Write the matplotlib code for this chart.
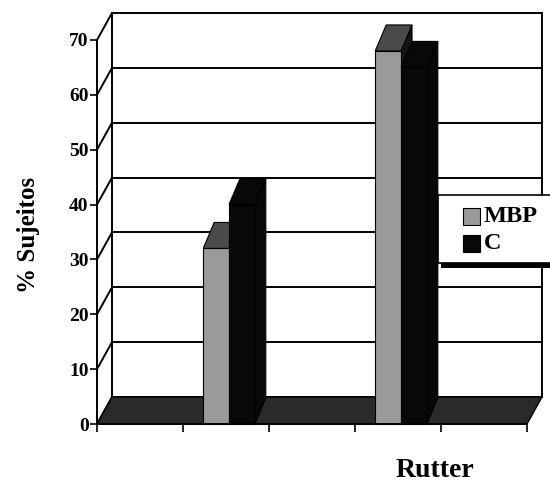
import matplotlib
matplotlib.use("Agg")
import matplotlib.pyplot as plt
from matplotlib.patches import Polygon, Rectangle

# dados (% de sujeitos por categoria Rutter)
categorias = [0, 1, 2, 3, 4]
mbp = [0, 32, 0, 68, 0]
ctrl = [0, 40, 0, 65, 0]
series = ["MBP", "C"]
yticks = [0, 10, 20, 30, 40, 50, 60, 70]

plt.rcParams['font.family'] = ['Liberation Serif', 'DejaVu Serif']
plt.rcParams['font.weight'] = 'bold'

W, H = 550, 486
fig = plt.figure(figsize=(W/100, H/100), dpi=100)

# eixo: x de 97 a 527 px, y=0 em 424 px, 10 unidades = 54.86 px
px_y = 54.86/10
ax = fig.add_axes([97/W, (H-424)/H, 430/W, 412/H])
ax.set_xlim(-0.5, 4.5)
ax.set_ylim(0, 412/px_y)

# profundidade das paredes e das barras (em unidades dos dados)
wdx, wdy = 15/86, 27/px_y
bdx, bdy = 11/86, 26/px_y

cor_mbp = '#9a9a9a'
cor_mbp_topo = '#4a4a4a'
cor_mbp_lado = '#151515'
cor_c = '#080808'
cor_chao = '#2a2a2a'

x0, x1 = -0.5, 4.5
ytop = yticks[-1]
lw = 1.4

# parede do fundo
ax.add_patch(Rectangle((x0+wdx, wdy), x1-x0, ytop, facecolor='white',
                       edgecolor='black', lw=lw, zorder=0, clip_on=False))
for t in yticks[1:-1]:
    ax.plot([x0+wdx, x1+wdx], [t+wdy, t+wdy], color='black', lw=lw,
            zorder=1, clip_on=False)
# parede lateral esquerda (diagonais)
for t in yticks:
    ax.plot([x0, x0+wdx], [t, t+wdy], color='black', lw=lw, zorder=1,
            clip_on=False)

# chao
ax.add_patch(Polygon([(x0, 0), (x1, 0), (x1+wdx, wdy), (x0+wdx, wdy)],
                     closed=True, facecolor=cor_chao, edgecolor='black',
                     lw=1, zorder=2, clip_on=False))

# barras 3D
larg = 0.3
desl = [-0.265, 0.035]
cores = [(cor_mbp, cor_mbp_topo, cor_mbp_lado), (cor_c, cor_c, cor_c)]
z = 3
for cat in categorias:
    for s, vals in enumerate([mbp, ctrl]):
        h = vals[cat]
        if h <= 0:
            continue
        xl = cat + desl[s]
        xr = xl + larg
        frente, topo, lado = cores[s]
        ax.add_patch(Polygon([(xr, 0), (xr+bdx, bdy), (xr+bdx, h+bdy), (xr, h)],
                             closed=True, facecolor=lado, edgecolor='black',
                             lw=0.8, zorder=z, clip_on=False))
        ax.add_patch(Polygon([(xl, h), (xr, h), (xr+bdx, h+bdy), (xl+bdx, h+bdy)],
                             closed=True, facecolor=topo, edgecolor='black',
                             lw=0.8, zorder=z, clip_on=False))
        ax.bar(xl, h, larg, align='edge', color=frente, edgecolor='black',
               lw=0.8, zorder=z+0.5, clip_on=False)
        z += 1

# eixos
for sp in ['top', 'right']:
    ax.spines[sp].set_visible(False)
ax.spines['left'].set_bounds(0, ytop)
ax.spines['left'].set_linewidth(lw)
ax.spines['bottom'].set_linewidth(lw)
ax.spines['left'].set_zorder(20)
ax.spines['bottom'].set_zorder(20)
ax.set_yticks(yticks)
ax.set_yticklabels([str(t) for t in yticks], fontsize=14, fontweight='bold')
ax.set_xticks([x0 + i for i in range(len(categorias)+1)])
ax.set_xticklabels([])
ax.tick_params(axis='y', direction='out', length=5, width=1.2, pad=1)
ax.tick_params(axis='x', direction='out', length=6, width=1.2)
ax.patch.set_visible(False)

# legenda
def fx(p):
    return p/W
def fy(p):
    return 1 - p/H

fig.add_artist(Rectangle((fx(441), fy(268)), fx(120), 6/H, transform=fig.transFigure,
                         facecolor='black', edgecolor='none', zorder=30))
fig.add_artist(Rectangle((fx(438), fy(263)), fx(120), 68/H, transform=fig.transFigure,
                         facecolor='white', edgecolor='black', lw=1.2, zorder=31))
for i, (nome, cor) in enumerate(zip(series, [cor_mbp, cor_c])):
    yc = 216.5 + 27*i
    fig.add_artist(Rectangle((fx(463), fy(yc+8.5)), fx(17), 17/H,
                             transform=fig.transFigure, facecolor=cor,
                             edgecolor='black', lw=0.8, zorder=32))
    fig.text(fx(484), fy(yc), nome, fontsize=17.5, fontweight='bold',
             va='center', ha='left', zorder=33)

# rotulos
fig.text(fx(29), fy(235), '% Sujeitos', rotation=90, fontsize=18,
         fontweight='bold', ha='center', va='center')
fig.text(fx(435), fy(477), 'Rutter', fontsize=20, fontweight='bold',
         ha='center', va='baseline')

fig.savefig('out.png', dpi=100)
